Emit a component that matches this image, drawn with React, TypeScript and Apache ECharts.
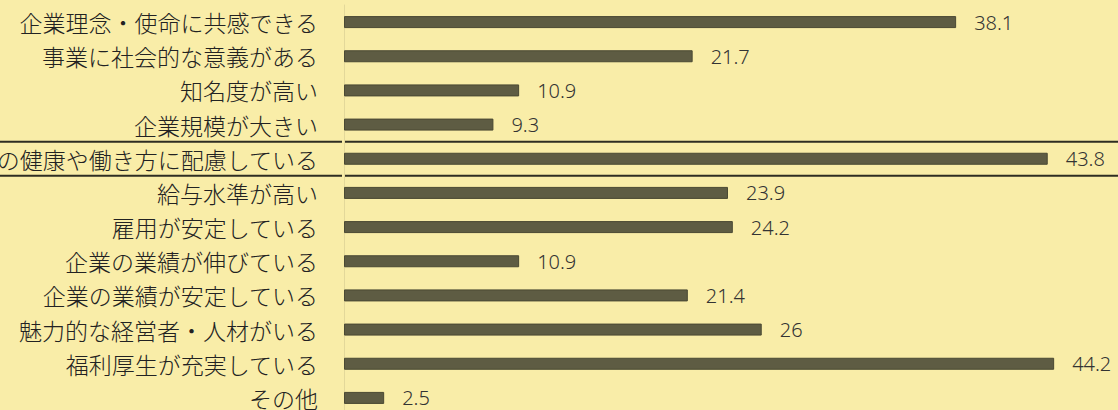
import React, { useEffect, useRef } from "react";
import * as echarts from "echarts";

const categories = [
  "企業理念・使命に共感できる",
  "事業に社会的な意義がある",
  "知名度が高い",
  "企業規模が大きい",
  "社員の健康や働き方に配慮している",
  "給与水準が高い",
  "雇用が安定している",
  "企業の業績が伸びている",
  "企業の業績が安定している",
  "魅力的な経営者・人材がいる",
  "福利厚生が充実している",
  "その他",
];
const values = [38.1, 21.7, 10.9, 9.3, 43.8, 23.9, 24.2, 10.9, 21.4, 26, 44.2, 2.5];
const highlightIndex = 4;

export default function App() {
  const ref = useRef<HTMLDivElement>(null);
  useEffect(() => {
    if (!ref.current) return;
    const chart = echarts.init(ref.current, undefined, { renderer: "svg" });
    const gridTop = 5;
    const gridHeight = 410;
    chart.setOption({
      animation: false,
      backgroundColor: "#F9EDA8",
      grid: {
        left: 344,
        right: 51,
        top: gridTop,
        height: gridHeight,
        containLabel: false,
        outerBoundsMode: "none",
      },
      xAxis: {
        type: "value",
        min: 0,
        max: 45,
        show: false,
      },
      yAxis: {
        type: "category",
        data: categories,
        inverse: true,
        axisLine: { show: true, lineStyle: { color: "#E3D89A", width: 1 } },
        axisTick: { show: false },
        axisLabel: {
          margin: 26,
          fontSize: 23,
          fontWeight: 300,
          color: "#222",
          fontFamily: "Noto Sans CJK JP",
          overflow: "none",
        },
      },
      series: [
        {
          type: "bar",
          data: values,
          barWidth: 12,
          itemStyle: { color: "#5E5C43", borderColor: "#4A4933", borderWidth: 1 },
          label: {
            show: true,
            position: "right",
            distance: 18,
            fontSize: 20,
            fontWeight: 300,
            color: "#333",
            fontFamily: "Noto Sans",
          },
        },
      ],
    });
    const center = chart.convertToPixel({ yAxisIndex: 0 }, categories[highlightIndex]) as number;
    const band = gridHeight / categories.length;
    const ys = [center - band / 2, center + band / 2];
    const lines: any[] = [];
    ys.forEach((y) => {
      lines.push({
        type: "line",
        shape: { x1: 0, y1: y, x2: 342, y2: y },
        style: { stroke: "#2E2D22", lineWidth: 2 },
      });
      lines.push({
        type: "line",
        shape: { x1: 345, y1: y, x2: 1118, y2: y },
        style: { stroke: "#2E2D22", lineWidth: 2 },
      });
    });
    chart.setOption({ graphic: lines });
    return () => chart.dispose();
  }, []);
  return (
    <div
      ref={ref}
      style={{ position: "fixed", left: 0, top: 0, width: 1118, height: 410 }}
    />
  );
}
